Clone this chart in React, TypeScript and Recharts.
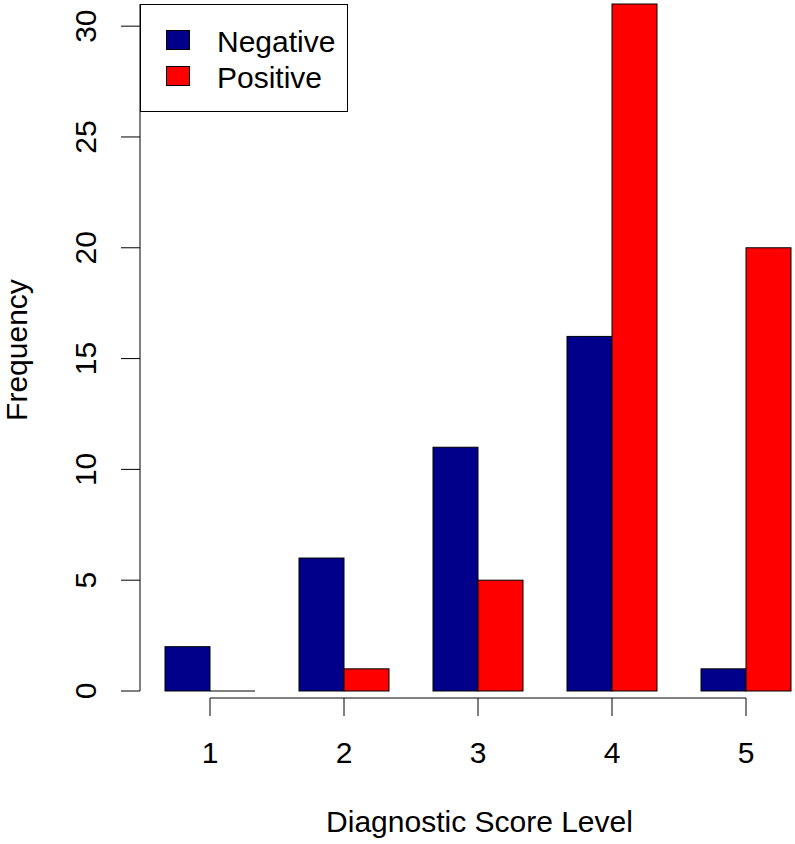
import React from 'react';
import { BarChart, Bar, XAxis, YAxis, Legend, Label } from 'recharts';

const categories = ['1', '2', '3', '4', '5'];
const negativeValues = [2, 6, 11, 16, 1];
const positiveValues = [0, 1, 5, 31, 20];
const yTicks = [0, 5, 10, 15, 20, 25, 30];

const data = categories.map((c, i) => ({ cat: c, Negative: negativeValues[i], Positive: positiveValues[i] }));

const FONT = '"Liberation Sans", Arial, Helvetica, sans-serif';
const FS = 30;
const X_PAD_LEFT = 3;

const BarShape = (props: any) => {
  const { x, y, width, height, fill } = props;
  if (!height || Math.abs(height) < 0.01) {
    return <line x1={x} x2={x + width} y1={y} y2={y} stroke="#000" strokeWidth={1} />;
  }
  return <rect x={x} y={y} width={width} height={height} fill={fill} stroke="#000" strokeWidth={1} />;
};

const YTick = (props: any) => {
  const { x, y, payload } = props;
  const tx = x - 25;
  return (
    <text x={tx} y={y} transform={`rotate(-90, ${tx}, ${y})`} textAnchor="middle" fontSize={FS} fontFamily={FONT} fill="#000">
      {payload.value}
    </text>
  );
};

const XTick = (props: any) => {
  const { x, y, payload, index, visibleTicksCount, width } = props;
  const band = (width - X_PAD_LEFT) / visibleTicksCount;
  const half = band / 2;
  const ly = y + 7;
  const left = index === 0 ? x : x - half;
  const right = index === visibleTicksCount - 1 ? x : x + half;
  return (
    <g>
      <line x1={left} x2={right} y1={ly} y2={ly} stroke="#000" strokeWidth={1} />
      <line x1={x} x2={x} y1={ly} y2={y + 25} stroke="#000" strokeWidth={1} />
      <text x={x} y={y + 72} textAnchor="middle" fontSize={FS} fontFamily={FONT} fill="#000">
        {payload.value}
      </text>
    </g>
  );
};

const LegendBox = () => (
  <svg width={209} height={109} style={{ display: 'block' }}>
    <rect x={0.5} y={0.5} width={207} height={107} fill="#fff" stroke="#000" strokeWidth={1} />
    <rect x={26.5} y={26.5} width={23} height={19} fill="#00008B" stroke="#000" strokeWidth={1} />
    <rect x={26.5} y={62.5} width={23} height={19} fill="#FF0000" stroke="#000" strokeWidth={1} />
    <text x={77} y={48} fontSize={FS} fontFamily={FONT} fill="#000">Negative</text>
    <text x={77} y={84} fontSize={FS} fontFamily={FONT} fill="#000">Positive</text>
  </svg>
);

export default function App() {
  return (
    <div style={{ position: 'fixed', left: 0, top: 0, width: 795, height: 844, overflow: 'hidden', background: '#fff' }}>
      <BarChart
        width={815}
        height={844}
        data={data}
        margin={{ top: 4, right: 2, left: 0, bottom: 0 }}
        barCategoryGap={22}
        barGap={0}
      >
        <XAxis
          dataKey="cat"
          interval={0}
          tickLine={false}
          axisLine={false}
          tickSize={0}
          tickMargin={0}
          padding={{ left: X_PAD_LEFT, right: 0 }}
          height={153}
          tick={<XTick />}
        >
          <Label
            content={(p: any) => {
              const vb = p.viewBox || {};
              return (
                <text x={vb.x + vb.width / 2 + 3} y={vb.y + 141} textAnchor="middle" fontSize={FS} fontFamily={FONT} fill="#000">
                  Diagnostic Score Level
                </text>
              );
            }}
          />
        </XAxis>
        <YAxis
          domain={[0, 31]}
          ticks={yTicks}
          interval={0}
          width={140}
          tickSize={19}
          tickMargin={0}
          axisLine={{ stroke: '#000', strokeWidth: 1 }}
          tickLine={{ stroke: '#000', strokeWidth: 1 }}
          tick={<YTick />}
        >
          <Label
            content={(p: any) => {
              const vb = p.viewBox || {};
              const cy = vb.y + vb.height / 2 + 2.5;
              return (
                <text x={27} y={cy} transform={`rotate(-90, 27, ${cy})`} textAnchor="middle" fontSize={FS} fontFamily={FONT} fill="#000">
                  Frequency
                </text>
              );
            }}
          />
        </YAxis>
        <Legend
          layout="horizontal"
          verticalAlign="middle"
          align="center"
          wrapperStyle={{ left: 140, top: 4, width: 209, height: 109 }}
          content={<LegendBox />}
        />
        <Bar dataKey="Negative" fill="#00008B" stroke="#000" isAnimationActive={false} shape={BarShape} />
        <Bar dataKey="Positive" fill="#FF0000" stroke="#000" isAnimationActive={false} shape={BarShape} />
      </BarChart>
    </div>
  );
}
